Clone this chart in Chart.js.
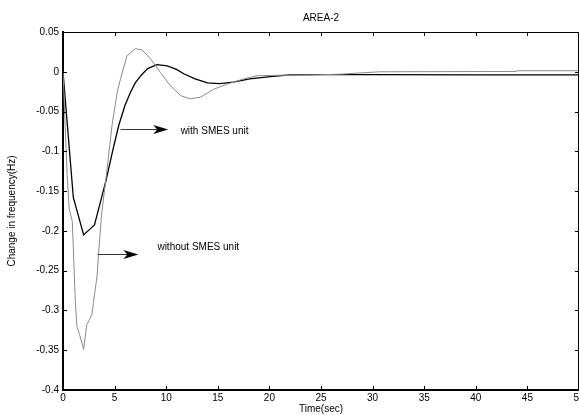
<!DOCTYPE html>
<html>
<head>
<meta charset="utf-8">
<script src="https://cdn.jsdelivr.net/npm/chart.js@4/dist/chart.umd.min.js"></script>
<style>
  html, body { margin: 0; padding: 0; background: #fff; }
  #wrap { width: 579px; height: 415px; position: relative; }
</style>
</head>
<body>
<div id="wrap"><canvas id="c"></canvas></div>
<script>
// ---- data ----
const chartTitle = 'AREA-2';
const xTitle = 'Time(sec)';
const yTitle = 'Change in frequency(Hz)';

// with SMES unit (black)
const withTime = [0, 1.0, 2.0, 3.05, 3.6, 4.2, 4.8, 5.4, 6.0, 6.5, 7.0, 7.6, 8.2, 9.1, 10.1, 11.0, 11.7, 12.8, 14.0, 15.2, 16.5, 18.1, 20.1, 22, 25, 30, 40, 50];
const withFreq = [0, -0.158, -0.205, -0.1925, -0.165, -0.135, -0.1, -0.0675, -0.0425, -0.027, -0.014, -0.004, 0.004, 0.009, 0.0075, 0.003, -0.0025, -0.009, -0.014, -0.015, -0.013, -0.009, -0.006, -0.004, -0.0036, -0.0036, -0.0038, -0.0038];

// without SMES unit (grey)
const withoutTime = [0, 0.4, 0.6, 0.9, 1.2, 1.35, 1.6, 2.0, 2.3, 2.6, 2.8, 2.95, 3.3, 3.45, 3.75, 4.2, 4.75, 5.25, 5.57, 6.2, 7.0, 7.65, 8.5, 9.45, 10.4, 11.4, 12.3, 13.3, 14.6, 15.9, 17.5, 18.8, 20.4, 24, 27, 28.5, 30.7, 43.9, 44, 50];
const withoutFreq = [0, -0.13, -0.172, -0.188, -0.29, -0.32, -0.33, -0.349, -0.318, -0.311, -0.305, -0.29, -0.257, -0.228, -0.178, -0.13, -0.0675, -0.026, -0.009, 0.02, 0.029, 0.0275, 0.016, -0.001, -0.0175, -0.03, -0.034, -0.032, -0.022, -0.0155, -0.009, -0.005, -0.0045, -0.004, -0.003, -0.0017, 0, 0.0004, 0.0013, 0.0013];

// axis ranges / ticks
const xRange = [0, 50];
const xStep = 5;
const yRange = [-0.4, 0.05];
const yStep = 0.05;

// annotations: [label, arrowStartX, arrowEndX, arrowY, textX, textY]
const annLabels = ['with SMES unit', 'without SMES unit'];
const annArrowX1 = [5.57, 3.34];
const annArrowX2 = [10.2, 7.3];
const annArrowY = [-0.072, -0.229];
const annTextX = [11.4, 9.15];
const annTextY = [-0.075, -0.221];

const toPoints = (xs, ys) => xs.map((x, i) => ({ x: x, y: ys[i] }));

const FONT = 'Arial, "Liberation Sans", Helvetica, sans-serif';

const frame = {
  id: 'frame',
  afterDatasetsDraw(chart) {
    const { ctx, chartArea: a, scales: { x, y } } = chart;
    ctx.save();
    ctx.strokeStyle = '#000';
    ctx.lineWidth = 1;
    // top and right box lines
    ctx.beginPath();
    ctx.moveTo(a.left, a.top + 0.5); ctx.lineTo(a.right, a.top + 0.5);
    ctx.moveTo(a.right - 0.5, a.top); ctx.lineTo(a.right - 0.5, a.bottom);
    ctx.stroke();
    // inward ticks
    const tl = 4;
    ctx.beginPath();
    x.ticks.forEach(t => {
      const px = Math.round(x.getPixelForValue(t.value)) + 0.5;
      ctx.moveTo(px, a.bottom); ctx.lineTo(px, a.bottom - tl);
      ctx.moveTo(px, a.top); ctx.lineTo(px, a.top + tl);
    });
    y.ticks.forEach(t => {
      const py = Math.round(y.getPixelForValue(t.value)) + 0.5;
      ctx.moveTo(a.left, py); ctx.lineTo(a.left + tl, py);
      ctx.moveTo(a.right, py); ctx.lineTo(a.right - tl, py);
    });
    ctx.stroke();
    // annotations
    ctx.font = '10px ' + FONT;
    ctx.fillStyle = '#000';
    ctx.textBaseline = 'middle';
    ctx.textAlign = 'left';
    annLabels.forEach((lab, i) => {
      const x1 = x.getPixelForValue(annArrowX1[i]);
      const x2 = x.getPixelForValue(annArrowX2[i]);
      const ay = Math.round(y.getPixelForValue(annArrowY[i])) + 0.5;
      ctx.strokeStyle = '#333';
      ctx.lineWidth = 1;
      ctx.beginPath();
      ctx.moveTo(x1, ay); ctx.lineTo(x2 - 6, ay);
      ctx.stroke();
      ctx.fillStyle = '#000';
      ctx.beginPath();
      ctx.moveTo(x2, ay);
      ctx.lineTo(x2 - 15, ay - 4.5);
      ctx.lineTo(x2 - 11, ay);
      ctx.lineTo(x2 - 15, ay + 4.5);
      ctx.closePath();
      ctx.fill();
      ctx.fillText(lab, x.getPixelForValue(annTextX[i]), y.getPixelForValue(annTextY[i]));
    });
    ctx.restore();
  }
};

new Chart(document.getElementById('c'), {
  type: 'scatter',
  data: {
    datasets: [
      {
        label: 'without SMES unit',
        data: toPoints(withoutTime, withoutFreq),
        showLine: true,
        borderColor: '#8a8a8a',
        borderWidth: 1,
        pointRadius: 0,
        tension: 0,
        fill: false
      },
      {
        label: 'with SMES unit',
        data: toPoints(withTime, withFreq),
        showLine: true,
        borderColor: '#000',
        borderWidth: 1.3,
        pointRadius: 0,
        tension: 0,
        fill: false
      }
    ]
  },
  options: {
    responsive: true,
    maintainAspectRatio: false,
    animation: false,
    devicePixelRatio: 1,
    layout: { padding: 0 },
    plugins: {
      legend: { display: false },
      tooltip: { enabled: false },
      title: {
        display: true,
        text: chartTitle,
        color: '#000',
        fullSize: false,
        font: { family: FONT, size: 10, weight: 'normal' },
        padding: { top: 12, bottom: 8 }
      }
    },
    scales: {
      x: {
        type: 'linear',
        min: xRange[0],
        max: xRange[1],
        grid: { display: true, drawOnChartArea: false, drawTicks: false },
        border: { display: true, color: '#000', width: 2 },
        ticks: {
          stepSize: xStep,
          autoSkip: false,
          maxRotation: 0,
          color: '#000',
          padding: 2,
          font: { family: FONT, size: 10 }
        },
        title: {
          display: true,
          text: xTitle,
          color: '#000',
          font: { family: FONT, size: 10 },
          padding: { top: 0, bottom: 0 }
        },
        afterFit(s) { s.height = 25; s.paddingLeft = 0; s.paddingRight = 0; }
      },
      y: {
        type: 'linear',
        min: yRange[0],
        max: yRange[1],
        grid: { display: true, drawOnChartArea: false, drawTicks: false },
        border: { display: true, color: '#000', width: 2 },
        ticks: {
          stepSize: yStep,
          autoSkip: false,
          color: '#000',
          padding: 4,
          font: { family: FONT, size: 10 },
          callback: v => { const r = Math.round(v * 100) / 100; return r === 0 ? '0' : String(r); }
        },
        title: {
          display: true,
          text: yTitle,
          color: '#000',
          font: { family: FONT, size: 10 },
          padding: { top: 6, bottom: 0 }
        },
        afterFit(s) { s.width = 63; }
      }
    }
  },
  plugins: [frame]
});
</script>
</body>
</html>
